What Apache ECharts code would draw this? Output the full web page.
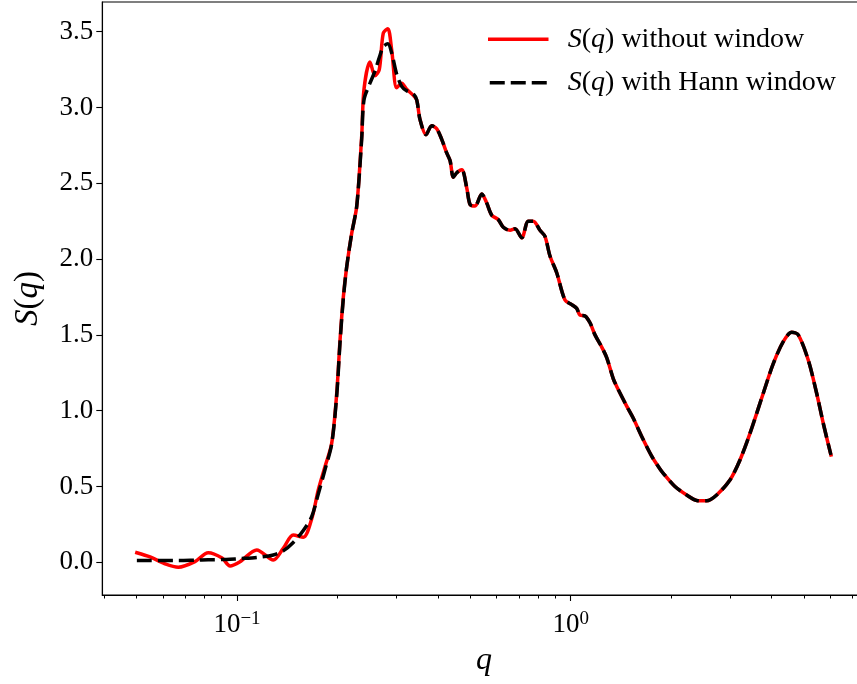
<!DOCTYPE html>
<html><head><meta charset="utf-8">
<script src="https://cdn.jsdelivr.net/npm/echarts@6/dist/echarts.min.js"></script>
<style>html,body{margin:0;padding:0;background:#fff}#c{width:857px;height:684px}</style>
</head><body><div id="c"></div>
<script>
// ---- data ----
const q = [0.0501,0.0549,0.0608,0.0667,0.0748,0.0820,0.0902,0.0953,0.1021,0.1146,
  0.1285,0.1376,0.1474,0.1580,0.1674,0.1752,0.1835,0.1922,0.1990,0.2036,
  0.2083,0.2132,0.2207,0.2285,0.2364,0.2402,0.2503,0.2591,0.2669,0.2744,
  0.2831,0.2908,0.3010,0.3116,0.3225,0.3376,0.3456,0.3536,0.3686,0.3833,
  0.3968,0.4107,0.4251,0.4350,0.4450,0.4556,0.4716,0.4881,0.4994,0.5169,
  0.5413,0.5603,0.5800,0.6070,0.6283,0.6580,0.6812,0.7134,0.7464,0.7726,
  0.8091,0.8375,0.8670,0.9081,0.9614,1.0070,1.0424,1.0664,1.1039,1.1427,
  1.1828,1.2388,1.2823,1.3421,1.3740,1.4720,1.5406,1.6327,1.7489,1.8521,
  1.8948,2.0540,2.2264,2.3857,2.5563,2.7390,3.0023,3.2170,3.4466,3.7778,
  4.0478,4.3366,4.5956,4.8101,5.1523,5.4604,5.7148,6.0256];
const sWithout = [0.063,0.035,-0.010,-0.033,0.004,0.063,0.028,-0.024,0.004,0.081,
  0.015,0.092,0.180,0.165,0.285,0.477,0.630,0.785,1.115,1.466,
  1.750,1.950,2.170,2.350,2.810,3.120,3.300,3.210,3.250,3.490,
  3.520,3.380,3.130,3.160,3.120,3.080,3.050,2.920,2.820,2.880,
  2.860,2.790,2.700,2.650,2.540,2.570,2.590,2.470,2.360,2.350,
  2.430,2.370,2.290,2.260,2.210,2.190,2.200,2.140,2.250,2.250,
  2.190,2.150,2.020,1.910,1.730,1.700,1.675,1.630,1.625,1.580,
  1.500,1.420,1.350,1.210,1.160,1.030,0.950,0.830,0.700,0.615,
  0.587,0.500,0.444,0.408,0.405,0.444,0.543,0.675,0.850,1.115,
  1.310,1.455,1.517,1.500,1.334,1.115,0.917,0.708];
const sHann = [0.011,0.011,0.012,0.012,0.014,0.016,0.018,0.020,0.024,0.032,
  0.048,0.075,0.130,0.210,0.300,0.450,0.610,0.780,1.100,1.450,
  1.740,1.950,2.170,2.350,2.790,3.050,3.160,3.240,3.330,3.400,
  3.420,3.360,3.220,3.140,3.110,3.090,3.050,2.920,2.820,2.880,
  2.860,2.790,2.700,2.650,2.540,2.570,2.590,2.470,2.360,2.350,
  2.430,2.370,2.290,2.260,2.210,2.190,2.200,2.140,2.250,2.250,
  2.190,2.150,2.020,1.910,1.730,1.700,1.675,1.630,1.625,1.580,
  1.500,1.420,1.350,1.210,1.160,1.030,0.950,0.830,0.700,0.615,
  0.587,0.500,0.444,0.408,0.405,0.444,0.543,0.675,0.850,1.115,
  1.310,1.455,1.517,1.500,1.334,1.115,0.917,0.708];
const seriesNames = ['S(q) without window', 'S(q) with Hann window'];
const yTicks = [0, 0.5, 1, 1.5, 2, 2.5, 3, 3.5];
const xMajorTicks = [0.1, 1];
const xMinorTicks = [0.04,0.05,0.06,0.07,0.08,0.09,0.2,0.3,0.4,0.5,0.6,0.7,0.8,0.9,2,3,4,5,6,7];

// ---- chart ----
const FONT = 'Liberation Serif';
const X_MIN = 0.03947, X_MAX = 7.66, Y_MIN = -0.216, Y_MAX = 3.696;
const chart = echarts.init(document.getElementById('c'), null, {renderer: 'canvas'});

function xLabel(v) {
  const e = Math.round(Math.log10(v));
  return '{b|10}{s|' + (e < 0 ? '\u2212' + (-e) : String(e)) + '}';
}
const italicRich = (size, lh) => ({ i: { fontFamily: FONT, fontStyle: 'italic', fontSize: size, lineHeight: lh, color: '#000' } });

const option = {
  animation: false,
  backgroundColor: '#fff',
  grid: { left: 102.3, top: 2, right: -8.7, bottom: 89, show: true, borderColor: '#000', borderWidth: 1.1,
          backgroundColor: 'transparent', containLabel: false, outerBoundsMode: 'none' },
  xAxis: [
    { type: 'log', logBase: 10, min: X_MIN, max: X_MAX, position: 'bottom',
      axisLine: { show: true, onZero: false, lineStyle: { color: '#000', width: 1.1 } },
      axisTick: { show: true, customValues: xMajorTicks, length: 6, inside: false, lineStyle: { color: '#000', width: 1.1 } },
      axisLabel: { show: true, customValues: xMajorTicks, formatter: xLabel, margin: 15,
        rich: { b: { fontFamily: FONT, fontSize: 27, lineHeight: 30, color: '#000' },
                s: { fontFamily: FONT, fontSize: 19, lineHeight: 10, verticalAlign: 'top', color: '#000' } } },
      splitLine: { show: false }, minorTick: { show: false }, minorSplitLine: { show: false },
      name: '{i|q}', nameLocation: 'middle', nameGap: 45,
      nameTextStyle: { fontFamily: FONT, fontSize: 32, lineHeight: 34, color: '#000', rich: italicRich(32, 34) } },
    { type: 'log', logBase: 10, min: X_MIN, max: X_MAX, position: 'bottom', offset: 0,
      axisLine: { show: false, onZero: false },
      axisTick: { show: true, customValues: xMinorTicks, length: 3.5, lineStyle: { color: '#000', width: 1 } },
      axisLabel: { show: false }, splitLine: { show: false } }
  ],
  yAxis: {
    type: 'value', min: Y_MIN, max: Y_MAX,
    axisLine: { show: true, onZero: false, lineStyle: { color: '#000', width: 1.1 } },
    axisTick: { show: true, customValues: yTicks, length: 6, lineStyle: { color: '#000', width: 1.1 } },
    axisLabel: { customValues: yTicks, formatter: v => Number(v).toFixed(1), margin: 9,
      fontFamily: FONT, fontSize: 27, color: '#000' },
    splitLine: { show: false },
    name: '{i|S}({i|q})', nameLocation: 'middle', nameRotate: 90, nameGap: 56,
    nameTextStyle: { fontFamily: FONT, fontSize: 33, lineHeight: 36, color: '#000', rich: italicRich(33, 36) }
  },
  legend: {
    orient: 'vertical', left: 488, top: 24.3, padding: 0, itemGap: 13.4,
    itemWidth: 57, itemHeight: 14, align: 'left', selectedMode: false,
    data: seriesNames,
    formatter: name => '{g|}{i|S}({i|q})' + name.replace('S(q)', ''),
    lineStyle: { width: 3.5 },
    itemStyle: { opacity: 0 },
    textStyle: { fontFamily: FONT, fontSize: 28, lineHeight: 30, color: '#000',
      rich: Object.assign({ g: { width: 16, lineHeight: 30 } }, italicRich(28, 30)) }
  },
  series: [
    { name: seriesNames[0], type: 'line', xAxisIndex: 0, yAxisIndex: 0,
      data: q.map((v, i) => [v, sWithout[i]]),
      symbol: 'none', symbolSize: 0, smooth: 0.3, z: 2,
      lineStyle: { color: '#ff0000', width: 3.5, cap: 'square', join: 'round' },
      itemStyle: { color: '#ff0000' } },
    { name: seriesNames[1], type: 'line', xAxisIndex: 0, yAxisIndex: 0,
      data: q.map((v, i) => [v, sHann[i]]),
      symbol: 'none', symbolSize: 0, smooth: 0.3, z: 3,
      lineStyle: { color: '#000000', width: 3.5, type: [15, 6], cap: 'butt', join: 'round' },
      itemStyle: { color: '#000000' } }
  ]
};
chart.setOption(option);
</script>
</body></html>
